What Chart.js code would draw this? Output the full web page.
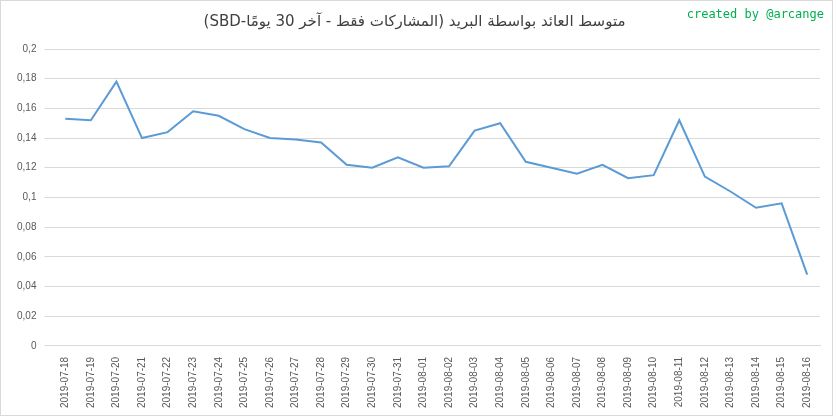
<!DOCTYPE html>
<html><head><meta charset="utf-8">
<script src="https://cdn.jsdelivr.net/npm/chart.js"></script>
<style>
html,body{margin:0;padding:0;background:#fff;}
#wrap{position:relative;width:831px;height:414px;border:1px solid #d9d9d9;}
#credit{position:absolute;right:8px;top:6px;font:12px "DejaVu Sans Mono",monospace;color:#00b050;}
</style></head><body>
<div id="wrap"><canvas id="c" width="831" height="414"></canvas><div id="credit">created by @arcange</div></div>
<script>
const categories=["2019-07-18","2019-07-19","2019-07-20","2019-07-21","2019-07-22","2019-07-23","2019-07-24","2019-07-25","2019-07-26","2019-07-27","2019-07-28","2019-07-29","2019-07-30","2019-07-31","2019-08-01","2019-08-02","2019-08-03","2019-08-04","2019-08-05","2019-08-06","2019-08-07","2019-08-08","2019-08-09","2019-08-10","2019-08-11","2019-08-12","2019-08-13","2019-08-14","2019-08-15","2019-08-16"];
const values=[0.153,0.152,0.178,0.140,0.144,0.158,0.155,0.146,0.140,0.139,0.137,0.122,0.120,0.127,0.120,0.121,0.145,0.150,0.124,0.120,0.116,0.122,0.113,0.115,0.152,0.114,0.104,0.093,0.096,0.048];
const title="\u202Bمتوسط العائد بواسطة البريد (المشاركات فقط - آخر 30 يومًا-SBD)\u202C";
new Chart(document.getElementById('c'),{type:'line',
data:{labels:categories,datasets:[{data:values,borderColor:'#5b9bd5',borderWidth:2,pointRadius:0,tension:0,fill:false}]},
options:{responsive:false,animation:false,
layout:{padding:{left:8,right:12,top:4,bottom:4}},
plugins:{legend:{display:false},tooltip:{enabled:false},
title:{display:true,text:title,color:'#404040',font:{family:'DejaVu Sans',size:15,weight:'normal'},padding:{top:8,bottom:18}}},
scales:{x:{offset:true,grid:{display:false},border:{color:'#d9d9d9'},ticks:{color:'#595959',font:{family:'Liberation Sans',size:10},maxRotation:90,minRotation:90,autoSkip:false}},
y:{min:0,max:0.2,border:{display:false},grid:{color:'#d9d9d9'},ticks:{stepSize:0.02,color:'#595959',font:{family:'Liberation Sans',size:10},padding:8,callback:v=>(Math.round(v*100)/100).toString().replace('.',',')}}}}});
</script></body></html>
